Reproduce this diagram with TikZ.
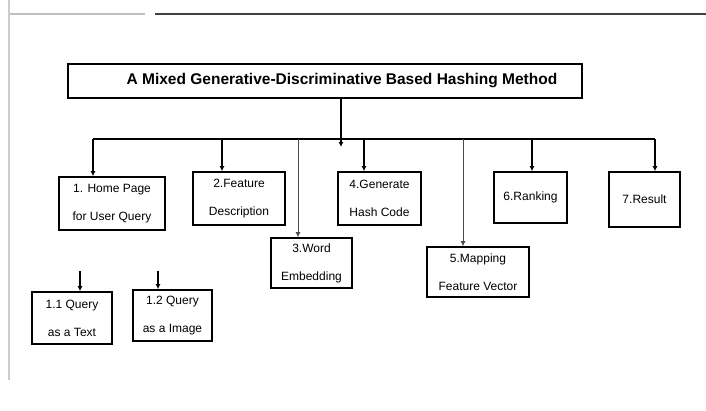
\documentclass[tikz,border=0pt]{standalone}
\usepackage{fontspec}
\setmainfont{Liberation Sans}
\usetikzlibrary{arrows.meta}

\begin{document}
\begin{tikzpicture}[
    x=1pt,y=-1pt,
    stepbox/.style={
        draw,line width=1.6pt,align=center,inner sep=0pt,
        font=\fontsize{12}{28}\selectfont
    },
    link/.style={line width=1.5pt,-{Latex[length=5pt,width=5pt]}},
    thinlink/.style={line width=0.8pt,black!70,-{Latex[length=5pt,width=5pt]}},
]
    \useasboundingbox (0,0) rectangle (706,410);
    \draw[line width=1.5pt,gray!40] (9,0) -- (9,380);
    \draw[line width=1.5pt,gray!50] (10,14) -- (145,14);
    \draw[line width=1.5pt,black!75] (155,14) -- (706,14);

    \node[draw,line width=1.6pt,minimum width=514pt,minimum height=34pt,
        font=\fontsize{15.5}{18}\selectfont\bfseries] (title) at (325,81)
        {\hspace*{34pt}A Mixed Generative-Discriminative Based Hashing Method};

    \node[stepbox,minimum width=106pt,minimum height=53pt] (home) at (112,203.5)
        {1. Home Page\\for User Query};
    \node[stepbox,minimum width=92pt,minimum height=53pt] (feature) at (239,198.5)
        {2.Feature\\Description};
    \node[stepbox,minimum width=81pt,minimum height=50pt] (word) at (311.5,263)
        {3.Word\\Embedding};
    \node[stepbox,minimum width=83pt,minimum height=53pt] (hash) at (379.5,198.5)
        {4.Generate\\Hash Code};
    \node[stepbox,minimum width=102pt,minimum height=50pt] (mapping) at (478,272)
        {5.Mapping\\Feature Vector};
    \node[stepbox,minimum width=73pt,minimum height=51pt] (ranking) at (530.5,197.5)
        {6.Ranking};
    \node[stepbox,minimum width=71pt,minimum height=55pt] (result) at (644.5,199.5)
        {7.Result};
    \node[stepbox,minimum width=80pt,minimum height=52pt] (text) at (72,318)
        {1.1 Query\\as a Text};
    \node[stepbox,minimum width=79pt,minimum height=51pt] (image) at (172.5,315.5)
        {1.2 Query\\as a Image};

    \coordinate (split) at (341,139);
    \coordinate (b1) at (93,139);
    \coordinate (b2) at (222,139);
    \coordinate (b3) at (298,139);
    \coordinate (b4) at (364,139);
    \coordinate (b5) at (463,139);
    \coordinate (b6) at (532,139);
    \coordinate (b7) at (655,139);
    \coordinate (q1) at (80,271);
    \coordinate (q2) at (158,271);

    \draw[link] (title.south -| split) -- ([yshift=-8pt]split);
    \draw[line width=1.5pt] (b1) -- (b7);
    \draw[link] (b1) -- (b1 |- home.north);
    \draw[link] (b2) -- (b2 |- feature.north);
    \draw[thinlink] (b3) -- (b3 |- word.north);
    \draw[link] (b4) -- (b4 |- hash.north);
    \draw[thinlink] (b5) -- (b5 |- mapping.north);
    \draw[link] (b6) -- (b6 |- ranking.north);
    \draw[link] (b7) -- (b7 |- result.north);
    \draw[link] (q1) -- (q1 |- text.north);
    \draw[link] (q2) -- (q2 |- image.north);
\end{tikzpicture}
\end{document}
